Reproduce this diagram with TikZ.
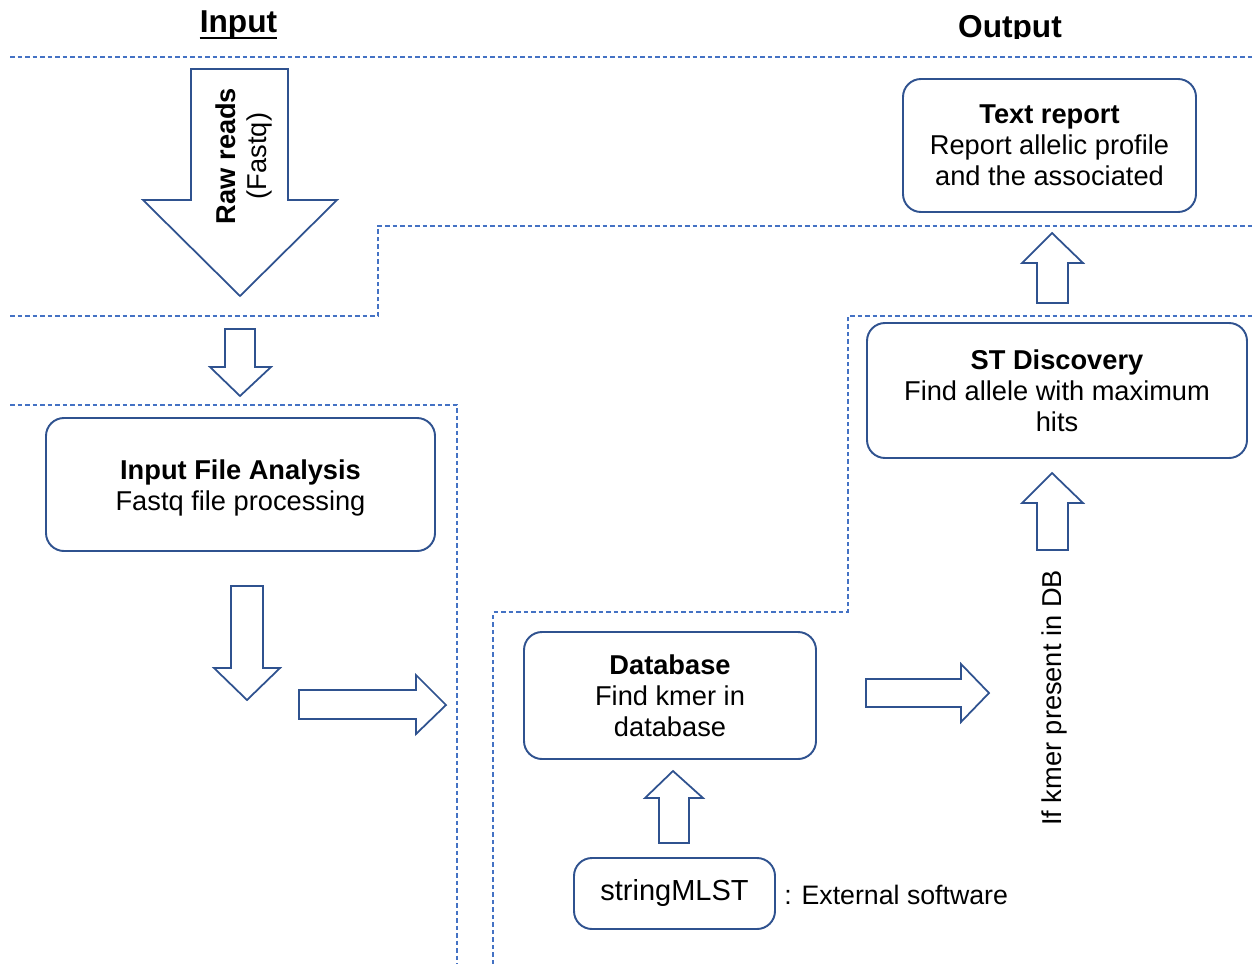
\documentclass[tikz,border=0pt]{standalone}
\usepackage{fontspec}
\setmainfont{Liberation Sans}
\definecolor{boxblue}{RGB}{47,82,143}
\definecolor{dashblue}{RGB}{68,114,196}
\tikzset{
  sep/.style={draw=dashblue, line width=0.6pt, dash pattern=on 0.9mm off 0.6mm},
  box/.style={draw=boxblue, line width=1.1pt, rounded corners=3.6mm, align=center,
     font=\fontsize{15.5}{17.6}\selectfont, inner sep=0pt},
  blockarrow/.style={draw=boxblue, line width=1pt, line join=miter},
  lbl/.style={font=\fontsize{15.5}{17.6}\selectfont, inner sep=0pt, align=center},
  ttl/.style={font=\fontsize{18}{20}\selectfont\bfseries, inner sep=0pt}
}
\begin{document}
\begin{tikzpicture}[x=0.2mm,y=-0.2mm]
\useasboundingbox (0,0) rectangle (1253,964);
% titles
\node[ttl, anchor=base] (tin) at (238.5,33) {Input};
\draw[line width=1.2pt] ([yshift=-1mm]tin.base west) -- ([yshift=-1mm]tin.base east);
\begin{scope}
  \clip (900,0) rectangle (1120,39);
  \node[ttl, anchor=base] (tout) at (1010,38) {Output};
\end{scope}
% dashed separators
\draw[sep] (10,57) -- (1253,57);
\draw[sep] (10,316) -- (378,316) -- (378,226) -- (1253,226);
\draw[sep] (10,405) -- (457,405) -- (457,964);
\draw[sep] (493,964) -- (493,612) -- (848,612) -- (848,316) -- (1253,316);
% big input arrow
\draw[blockarrow] (191,69) -- (288,69) -- (288,200) -- (337,200) -- (240,296) -- (143,200) -- (191,200) -- cycle;
\node[lbl, rotate=90] (raw) at (244,156) {\textbf{Raw reads}\\(Fastq)};
% small down arrow
\draw[blockarrow] (225,329) -- (255,329) -- (255,367) -- (271,367) -- (240,396) -- (210,367) -- (225,367) -- cycle;
% boxes
\node[box, minimum width=77.8mm, minimum height=26.6mm] (ifa) at (240.5,484.5) {};
\node[lbl] (ifatext) at (240.5,487.5) {\textbf{Input File Analysis}\\Fastq file processing};
\node[box, minimum width=58.4mm, minimum height=25.4mm] (db) at (670,695.5)
  {\textbf{Database}\\Find kmer in\\database};
\node[box, minimum width=40.2mm, minimum height=14.2mm, font=\fontsize{16.5}{18}\selectfont] (smlst) at (674.5,893.5)
  {\raisebox{1.6mm}{stringMLST}};
\node[lbl, anchor=west, font=\fontsize{15.2}{17}\selectfont] (ext) at ([xshift=1.6mm,yshift=-0.2mm]smlst.east) {: External software};
\node[box, minimum width=76mm, minimum height=27mm] (std) at (1057,390.5)
  {\textbf{ST Discovery}\\Find allele with maximum\\hits};
\node[box, minimum width=58.6mm, minimum height=26.6mm] (rep) at (1049.5,145.5)
  {\textbf{Text report}\\Report allelic profile\\and the associated};
% arrows below input analysis
\draw[blockarrow] (231,586) -- (263,586) -- (263,668) -- (280,668) -- (247,700) -- (214,668) -- (231,668) -- cycle;
\draw[blockarrow] (299,690) -- (416,690) -- (416,675) -- (446,705) -- (416,734) -- (416,719) -- (299,719) -- cycle;
% up arrow from stringMLST to database
\draw[blockarrow] (659,843) -- (689,843) -- (689,798) -- (703,798) -- (673,771) -- (645,798) -- (659,798) -- cycle;
% right arrow from database
\draw[blockarrow] (866,679) -- (961,679) -- (961,664) -- (989,693) -- (961,722) -- (961,707) -- (866,707) -- cycle;
\node[lbl, rotate=90] (kmer) at (1054,698) {If kmer present in DB};
% up arrows to ST discovery and text report
\draw[blockarrow] (1037,550) -- (1068,550) -- (1068,503) -- (1083,503) -- (1052,473) -- (1022,503) -- (1037,503) -- cycle;
\draw[blockarrow] (1037,303) -- (1068,303) -- (1068,263) -- (1083,263) -- (1052,233) -- (1022,263) -- (1037,263) -- cycle;
\end{tikzpicture}
\end{document}
